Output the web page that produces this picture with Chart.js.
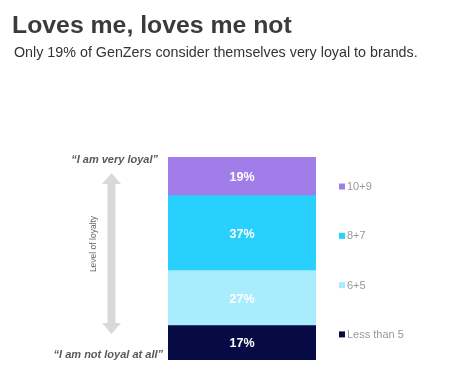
<!DOCTYPE html>
<html><head><meta charset="utf-8">
<script src="https://cdn.jsdelivr.net/npm/chart.js@4/dist/chart.umd.min.js"></script>
<style>
html,body{margin:0;padding:0;background:#fff;}
#wrap{position:relative;width:450px;height:388px;overflow:hidden;}
#t{position:absolute;left:12px;top:11px;font:bold 24.8px "Liberation Sans",Arial,sans-serif;line-height:1.15;color:#3b3b3b;white-space:nowrap;}
#s{position:absolute;left:14px;top:44px;font:14.3px "Liberation Sans",Arial,sans-serif;line-height:1.15;color:#333;white-space:nowrap;}
canvas{position:absolute;left:0;top:0;}
</style></head>
<body><div id="wrap">
<canvas id="c" width="450" height="388"></canvas>
<div id="t">Loves me, loves me not</div>
<div id="s">Only 19% of GenZers consider themselves very loyal to brands.</div>
</div>
<script>
const categories = ["GenZ"];
const seriesLabels = ["Less than 5", "6+5", "8+7", "10+9"];
const seriesValues = [17, 27, 37, 19];
const seriesColors = ["#070b45", "#a9ecfd", "#29cffd", "#a07de8"];
const topLabel = "\u201cI am very loyal\u201d";
const bottomLabel = "\u201cI am not loyal at all\u201d";
const axisNote = "Level of loyalty";

const datasets = seriesLabels.map((l, i) => ({
  label: l, data: [seriesValues[i]], backgroundColor: seriesColors[i],
  borderWidth: 0, barPercentage: 1, categoryPercentage: 1
}));

const deco = {
  id: 'deco',
  afterDatasetsDraw(chart) {
    const ctx = chart.ctx, ca = chart.chartArea;
    ctx.save();
    // value labels
    ctx.font = 'bold 12.5px "Liberation Sans", Arial, sans-serif';
    ctx.fillStyle = '#fff'; ctx.textAlign = 'center'; ctx.textBaseline = 'middle';
    chart.data.datasets.forEach((ds, i) => {
      const el = chart.getDatasetMeta(i).data[0];
      ctx.fillText(ds.data[0] + '%', el.x, (el.y + el.base) / 2 + 1);
    });
    // legend (top to bottom, reversed order)
    const n = chart.data.datasets.length;
    const ly0 = ca.top + 29.5, step = 49.3;
    ctx.font = '11px "Liberation Sans", Arial, sans-serif';
    ctx.textAlign = 'left';
    for (let k = 0; k < n; k++) {
      const ds = chart.data.datasets[n - 1 - k];
      const y = ly0 + k * step;
      ctx.fillStyle = ds.backgroundColor;
      ctx.fillRect(ca.right + 23, y - 3, 6, 6);
      ctx.fillStyle = '#999';
      ctx.fillText(ds.label, ca.right + 31, y + 0.5);
    }
    // left annotations
    ctx.fillStyle = '#595959';
    ctx.font = 'italic bold 11px "Liberation Sans", Arial, sans-serif';
    ctx.textAlign = 'right';
    ctx.fillText(topLabel, ca.left - 10, ca.top + 3);
    ctx.fillText(bottomLabel, ca.left - 5, ca.bottom - 5);
    // arrow
    const ax = 111.5, at = ca.top + 16, ab = ca.bottom - 26;
    const hw = 9.5, hh = 11, sw = 4;
    ctx.fillStyle = '#d9d9d9';
    ctx.beginPath();
    ctx.moveTo(ax, at); ctx.lineTo(ax + hw, at + hh); ctx.lineTo(ax + sw, at + hh);
    ctx.lineTo(ax + sw, ab - hh); ctx.lineTo(ax + hw, ab - hh); ctx.lineTo(ax, ab);
    ctx.lineTo(ax - hw, ab - hh); ctx.lineTo(ax - sw, ab - hh); ctx.lineTo(ax - sw, at + hh);
    ctx.lineTo(ax - hw, at + hh); ctx.closePath(); ctx.fill();
    // rotated note
    ctx.save();
    ctx.translate(94, 244);
    ctx.rotate(-Math.PI / 2);
    ctx.textAlign = 'center';
    ctx.fillStyle = '#666';
    ctx.font = '8.5px "Liberation Sans", Arial, sans-serif';
    ctx.fillText(axisNote, 0, 0);
    ctx.restore();
    ctx.restore();
  }
};

new Chart(document.getElementById('c'), {
  type: 'bar',
  data: { labels: categories, datasets },
  options: {
    responsive: false, animation: false,
    layout: { padding: { left: 168, right: 134, top: 157, bottom: 28 } },
    scales: {
      x: { stacked: true, display: false },
      y: { stacked: true, display: false, min: 0, max: 100 }
    },
    plugins: { legend: { display: false }, tooltip: { enabled: false } }
  },
  plugins: [deco]
});
</script>
</body></html>
